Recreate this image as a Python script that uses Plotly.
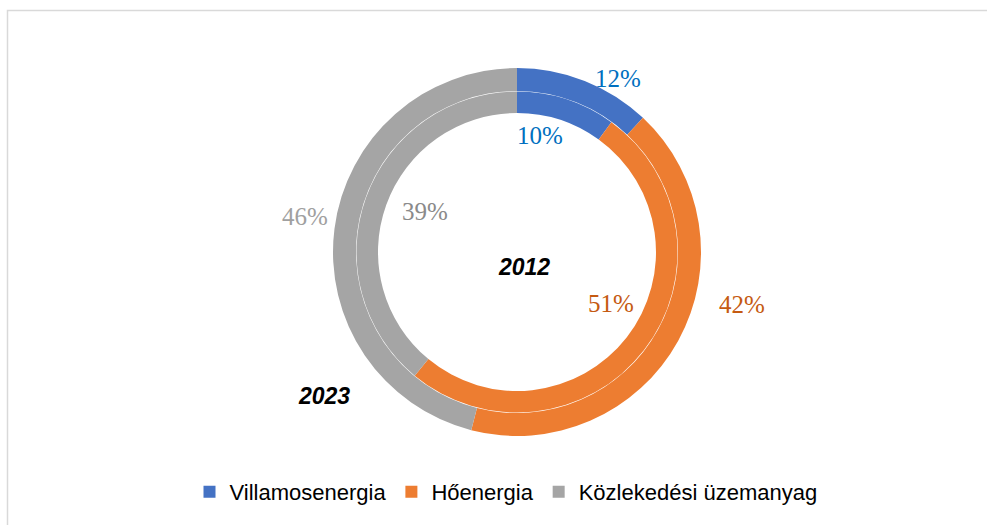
import plotly.graph_objects as go

categories = ["Villamosenergia", "Hőenergia", "Közlekedési üzemanyag"]
values_2023 = [12, 42, 46]
values_2012 = [10, 51, 39]
ring_labels = ["2012", "2023"]

colors = ["#4472C4", "#ED7D31", "#A5A5A5"]
label_colors = ["#0070C0", "#C55A11", "#A0A0A0"]
inner_label_colors = ["#0070C0", "#C55A11", "#8A8A8A"]

W, H = 987, 525
cx, cy = 517, 273  # center in px (y from bottom)
R_out, R_out_in = 184, 161
R_in, R_in_in = 160.5, 139

def dom(r):
    return dict(x=[(cx - r) / W, (cx + r) / W], y=[(cy - r) / H, (cy + r) / H])

fig = go.Figure()
fig.add_trace(go.Pie(
    labels=categories, values=values_2023, hole=R_out_in / R_out,
    domain=dom(R_out), sort=False, direction="clockwise", rotation=0,
    marker=dict(colors=colors, line=dict(width=0)),
    textinfo="none", hoverinfo="label+percent", showlegend=True,
    name=ring_labels[1],
))
fig.add_trace(go.Pie(
    labels=categories, values=values_2012, hole=R_in_in / R_in,
    domain=dom(R_in), sort=False, direction="clockwise", rotation=0,
    marker=dict(colors=colors, line=dict(width=0)),
    textinfo="none", hoverinfo="label+percent", showlegend=False,
    name=ring_labels[0],
))

serif = "Liberation Serif, Times New Roman, serif"
outer_pos = [(618, 78), (742, 304), (305, 216)]
inner_pos = [(540, 135), (611, 303), (425, 211)]
ann = []
for v, (x, y), c in zip(values_2023, outer_pos, label_colors):
    ann.append(dict(x=x / W, y=1 - y / H, xref="paper", yref="paper",
                    xanchor="center", yanchor="middle",
                    text=f"{v}%", showarrow=False,
                    font=dict(family=serif, size=25, color=c)))
for v, (x, y), c in zip(values_2012, inner_pos, inner_label_colors):
    ann.append(dict(x=x / W, y=1 - y / H, xref="paper", yref="paper",
                    xanchor="center", yanchor="middle",
                    text=f"{v}%", showarrow=False,
                    font=dict(family=serif, size=25, color=c)))
ann.append(dict(x=524 / W, y=1 - 267 / H, xref="paper", yref="paper",
                xanchor="center", yanchor="middle",
                text=f"<b><i>{ring_labels[0]}</i></b>", showarrow=False,
                font=dict(family="Liberation Sans, Arial, sans-serif", size=23, color="black")))
ann.append(dict(x=324 / W, y=1 - 396 / H, xref="paper", yref="paper",
                xanchor="center", yanchor="middle",
                text=f"<b><i>{ring_labels[1]}</i></b>", showarrow=False,
                font=dict(family="Liberation Sans, Arial, sans-serif", size=23, color="black")))

fig.update_layout(
    width=W, height=H,
    margin=dict(l=0, r=0, t=0, b=0),
    paper_bgcolor="white", plot_bgcolor="white",
    annotations=ann,
    legend=dict(orientation="h", x=506 / W, xanchor="center", y=1 - 492 / H, yanchor="middle",
                font=dict(family="Liberation Sans, Arial, sans-serif", size=22, color="#000000"),
                itemwidth=30, traceorder="normal"),
    shapes=[dict(type="rect", xref="paper", yref="paper",
                 x0=7.5 / W, x1=1.02, y0=-0.02, y1=1 - 10.5 / H,
                 line=dict(color="#D9D9D9", width=1.5), fillcolor="rgba(0,0,0,0)")],
)

fig.write_html("out.html", config={"displayModeBar": False},
               post_script="document.body.style.margin='0';")
